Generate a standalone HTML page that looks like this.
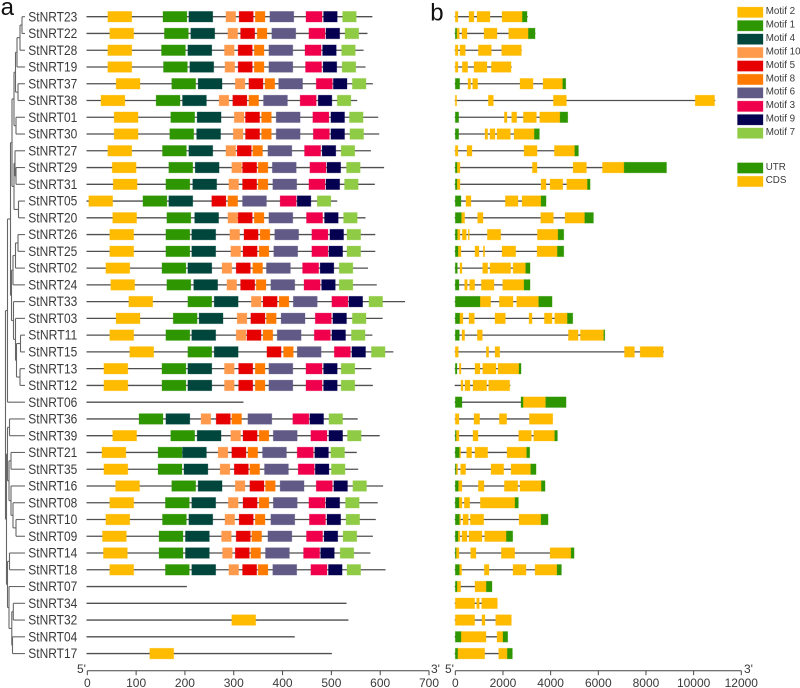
<!DOCTYPE html>
<html lang="en">
<head>
<meta charset="utf-8">
<title>StNRT gene family motif and gene structure</title>
<style>
html,body{margin:0;padding:0;background:#fff;}
svg{display:block;font-family:"Liberation Sans",Arial,sans-serif;}
text{fill:#3a3a3a;}
</style>
</head>
<body>
<svg id="figure" xmlns="http://www.w3.org/2000/svg" width="800" height="688" viewBox="0 0 800 688">
  <rect x="0" y="0" width="800" height="688" fill="#fff"/>
  <text x="0.6" y="15" font-size="24" style="fill:#111">a</text>
  <text x="430.2" y="20.5" font-size="24" style="fill:#111">b</text>
  <g id="tree"></g>
  <g id="labels"></g>
  <g id="motifs"></g>
  <g id="structures"></g>
  <g id="axis-a"></g>
  <g id="axis-b"></g>
  <g id="legend"></g>
</svg>
<script>
const geneNames = ["StNRT23","StNRT22","StNRT28","StNRT19","StNRT37","StNRT38","StNRT01","StNRT30","StNRT27","StNRT29","StNRT31","StNRT05","StNRT20","StNRT26","StNRT25","StNRT02","StNRT24","StNRT33","StNRT03","StNRT11","StNRT15","StNRT13","StNRT12","StNRT06","StNRT36","StNRT39","StNRT21","StNRT35","StNRT16","StNRT08","StNRT10","StNRT09","StNRT14","StNRT18","StNRT07","StNRT34","StNRT32","StNRT04","StNRT17"];
const proteinLengths = [584,574,566,570,585,553,596,598,581,608,589,512,570,590,590,575,593,651,605,584,627,582,585,320,554,599,552,555,606,595,591,585,580,611,204,531,535,425,501];
const motifNames = ["Motif 2","Motif 1","Motif 4","Motif 10","Motif 5","Motif 8","Motif 6","Motif 3","Motif 9","Motif 7"];
const motifLengths = [49,49,49,20,29,20,49,33,28,28];
const motifColors = ["#ffbb00","#2e9600","#00463c","#ff9a4d","#e60000","#ff7a00","#625a86","#f0004c","#05004f","#8fcb45"];
/* start residue of each motif, in motifNames order; null = motif absent */
const motifStarts = [
[42,155,208,284,311,344,374,448,484,523],
[46,158,212,288,314,348,378,454,489,528],
[42,152,206,281,309,342,372,446,482,521],
[42,156,210,282,309,342,372,447,483,522],
[59,173,227,303,331,364,392,469,504,543],
[28,141,195,270,298,331,361,436,473,512],
[55,171,225,301,324,357,387,462,499,537],
[55,169,224,299,324,357,387,463,499,538],
[42,154,208,284,307,339,370,445,481,520],
[51,167,221,296,318,350,379,456,491,531],
[53,161,216,290,318,350,380,454,489,527],
[3,114,167,null,255,288,318,395,430,471],
[52,163,220,288,309,342,372,449,486,525],
[46,161,214,292,321,354,384,460,497,532],
[46,161,214,294,319,352,382,460,495,532],
[38,153,206,276,305,339,367,441,477,516],
[48,163,218,286,314,346,376,444,480,516],
[85,206,260,336,360,393,422,501,536,577],
[59,176,229,307,335,367,397,467,503,543],
[46,161,214,305,327,360,389,465,501,541],
[87,206,260,null,368,402,430,506,542,582],
[34,153,206,281,310,344,372,448,484,520],
[34,153,206,281,310,344,372,448,484,520],
[null,null,null,null,null,null,null,null,null,null],
[null,106,161,233,264,296,329,421,456,495],
[52,171,225,294,319,352,381,458,495,533],
[30,145,195,268,296,329,359,430,466,499],
[34,145,198,272,301,333,363,432,467,500],
[58,173,227,303,333,365,395,469,505,544],
[46,160,214,289,319,352,381,454,489,529],
[38,154,208,282,311,344,376,455,491,530],
[31,147,201,275,305,337,370,449,485,524],
[33,147,201,277,303,335,365,443,478,518],
[46,160,214,290,318,350,380,458,494,532],
[null,null,null,null,null,null,null,null,null,null],
[null,null,null,null,null,null,null,null,null,null],
[296,null,null,null,null,null,null,null,null,null],
[null,null,null,null,null,null,null,null,null,null],
[128,null,null,null,null,null,null,null,null,null]
];
const cdsSegments = [
[[0,112],[574,784],[910,1456],[1960,2814]],
[[56,168],[280,490],[1204,1750],[2240,3066]],
[[0,112],[196,420],[966,1512],[1946,2772]],
[[0,112],[294,518],[784,1330],[1512,2338]],
[[532,644],[728,938],[2716,3262],[3682,4508]],
[[0,56],[1386,1596],[4116,4662],[10066,10878]],
[[2058,2170],[2366,2576],[2856,3402],[3542,4396]],
[[1246,1358],[1456,1666],[1750,2310],[2464,3318]],
[[0,112],[490,700],[2884,3430],[4158,5012]],
[[70,196],[3234,3430],[4942,5502],[6174,7084]],
[[70,196],[3598,3808],[3976,4508],[4676,5544]],
[[448,658],[2100,2632],[2800,3598]],
[[252,392],[938,1162],[3584,4116],[4606,5432]],
[[84,196],[294,462],[546,588],[1344,1904],[3444,4312]],
[[112,238],[826,994],[1176,1232],[1960,2534],[3430,4284]],
[[196,280],[1148,1358],[1456,2324],[2422,2954]],
[[392,504],[602,812],[1092,1624],[1988,2884]],
[[1036,1484],[1848,2422],[2576,3500]],
[[182,322],[574,798],[1666,2100],[3094,3220],[3738,4060],[4172,4704]],
[[280,392],[924,1134],[4746,5152],[5250,6230]],
[[0,126],[1302,1400],[1666,1862],[7098,7518],[7756,8722]],
[[168,238],[826,1036],[1148,1708],[1792,2674]],
[[238,322],[406,616],[742,1316],[1400,2282]],
[[2842,3794]],
[[0,154],[784,1022],[1848,2156],[3108,4088]],
[[28,154],[742,952],[2660,3192],[3290,4172]],
[[168,224],[476,686],[826,1358],[2170,2996]],
[[20,98],[224,434],[1498,2030],[2338,3164]],
[[126,280],[966,1204],[2058,2618],[2716,3612]],
[[154,280],[378,602],[1050,2506]],
[[168,224],[322,546],[630,1190],[2674,3598]],
[[112,196],[280,490],[574,1120],[1232,2142]],
[[28,154],[644,868],[1932,2492],[3976,4858]],
[[168,266],[1218,1414],[2422,2968],[3346,4270]],
[[70,224],[826,1302]],
[[0,812],[896,1008],[1106,1764]],
[[0,812],[1120,1246],[1694,2352]],
[[238,1288],[1750,2002]],
[[98,1232],[1820,2184]]
];
const utrSegments = [
[[2814,3010]],
[[0,56],[3066,3346]],
[],
[],
[[0,182],[4508,4634]],
[],
[[0,140],[4396,4718]],
[[0,140],[3318,3528]],
[[5012,5166]],
[[0,70],[7084,8862]],
[[0,70],[5544,5656]],
[[0,238],[3598,3808]],
[[0,252],[5432,5796]],
[[0,84],[4312,4550]],
[[0,112],[4284,4550]],
[[0,84],[2954,3136]],
[[0,154],[2884,3136]],
[[0,1036],[3500,4060]],
[[0,182],[4704,4928]],
[[0,168],[6230,6272]],
[],
[[0,70],[2674,2758]],
[],
[[0,280],[2758,2842],[3794,4648]],
[],
[[0,28],[4172,4284]],
[[0,168],[2996,3122]],
[[0,20],[3164,3388]],
[[0,126],[3612,3766]],
[[0,154],[2506,2646]],
[[0,168],[3598,3892]],
[[0,112],[2142,2408]],
[[0,28],[4858,4984]],
[[0,168],[4270,4452]],
[[0,70],[1302,1540]],
[],
[],
[[0,238],[2002,2198]],
[[0,98],[2184,2394]]
];
/* gene length where the line runs past the last exon */
const geneLengths = [3038,3360,2786,2366,4634,10906,4718,3528,5166,8862,5656,3808,5796,4550,4550,3136,3136,4060,4928,6272,8750,2758,2310,4648,4088,4284,3122,3388,3766,2646,3892,2408,4984,4452,1540,1764,2352,2198,2394];
const motifTicks = [0,100,200,300,400,500,600,700];
const structureTicks = [0,2000,4000,6000,8000,10000,12000];
const structureLegend = ["UTR","CDS"];
/* nested clades: [branch depth, children]; a plain number is a leaf row in geneNames */
const treeClades =
[5.5,[
  [7.5,[
    [10.5,[
      [12,[
        [14,[
          [15.5,[[17,[[20,[[22,[0,1]],2]],3]],[18,[4,5]]]],
          [16,[6,7]]
        ]],
        [14,[
          [15,[8,[16,[9,10]]]],
          [18.5,[11,12]]
        ]]
      ]],
      [11.5,[
        [13,[[15.5,[[18,[13,14]],15]],16]],
        [13.5,[17,[15.5,[18,[16.5,[[20.5,[19,20]],[20,[21,22]]]]]]]]
      ]]
    ]],
    23
  ]],
  [6.5,[
    [7.5,[
      [9.5,[24,25]],
      [9,[
        [11,[26,27]],
        [11,[28,[13,[29,[16,[30,31]]]]]]
      ]]
    ]],
    [7.5,[
      [9.5,[32,33]],
      [9,[34,[11.8,[[13.3,[35,36]],[12.5,[37,38]]]]]]
    ]]
  ]]
]];

const SVG_NS = "http://www.w3.org/2000/svg";
const AX_A_X0 = 87.3, AX_A_X1 = 429, AX_A_MAX = 700;
const AX_B_X0 = 455.3, AX_B_X1 = 741.3, AX_B_MAX = 12000;
const AXIS_Y = 670.7, ROW_Y0 = 16.7, ROW_STEP = 16.76, BOX_H = 10.6, LEAF_X = 25;
const xMotif = v => AX_A_X0 + v * (AX_A_X1 - AX_A_X0) / AX_A_MAX;
const xStruct = v => AX_B_X0 + v * (AX_B_X1 - AX_B_X0) / AX_B_MAX;
const yRow = i => ROW_Y0 + ROW_STEP * i;

function mk(parent, tag, props, txt) {
  const el = document.createElementNS(SVG_NS, tag);
  for (const k in props) el.setAttribute(k, props[k]);
  if (txt !== undefined) el.textContent = txt;
  parent.appendChild(el);
  return el;
}
function box(parent, x0, x1, y, color) {
  return mk(parent, "rect", {x: x0, y: y - BOX_H / 2, width: Math.max(x1 - x0, 0.8), height: BOX_H, fill: color, stroke: color, "stroke-opacity": 0.35, "stroke-width": 0.8});
}

/* tree */
const treeG = document.getElementById("tree");
function drawClade(node) {
  if (typeof node === "number") return {x: LEAF_X, y: yRow(node)};
  const depth = node[0];
  const kids = node[1].map(drawClade);
  const ys = kids.map(k => k.y);
  const top = ys[0], bot = ys[ys.length - 1];
  const v = mk(treeG, "line", {x1: depth, x2: depth, y1: top, y2: bot, stroke: "#666", "stroke-width": 1.1});
  
  
  kids.forEach(k => {
    const h = mk(treeG, "line", {x1: depth, x2: k.x, y1: k.y, y2: k.y, stroke: "#666", "stroke-width": 1.1});
    
    
  });
  return {x: depth, y: (top + bot) / 2};
}
drawClade(treeClades);

/* labels, motif rows, structure rows */
const labelsG = document.getElementById("labels");
const motifsG = document.getElementById("motifs");
const structG = document.getElementById("structures");
geneNames.forEach((name, i) => {
  const y = yRow(i);
  const lab = mk(labelsG, "text", {x: 28.3, y: y + 4.6, "font-size": 14, textLength: 49, lengthAdjust: "spacingAndGlyphs"}, name);
  
  

  const row = mk(motifsG, "g", {});
  
  
  const ln = mk(row, "line", {x1: 86.5, x2: xMotif(proteinLengths[i]), y1: y, y2: y, stroke: "#4f4f4f", "stroke-width": 1.3});
  
  
  motifStarts[i].forEach((start, m) => {
    if (start === null) return;
    const r = box(row, xMotif(start), xMotif(start + motifLengths[m]), y, motifColors[m]);
    
    
  });

  const sRow = mk(structG, "g", {});
  
  
  const sl = mk(sRow, "line", {x1: xStruct(0) - 0.6, x2: xStruct(geneLengths[i]), y1: y, y2: y, stroke: "#4f4f4f", "stroke-width": 1.3});
  
  
  cdsSegments[i].forEach(seg => {
    const c = box(sRow, xStruct(seg[0]), xStruct(seg[1]), y, "#ffbb00");
    
    
  });
  utrSegments[i].forEach(seg => {
    const u = box(sRow, xStruct(seg[0]), xStruct(seg[1]), y, "#2e9600");
    
    
  });
});

/* axes */
function drawAxis(gid, ticks, xf, x5, x3) {
  const g = document.getElementById(gid);
  const dom = mk(g, "line", {x1: xf(ticks[0]), x2: xf(ticks[ticks.length - 1]), y1: AXIS_Y, y2: AXIS_Y, stroke: "#444", "stroke-width": 1});
  
  
  ticks.forEach(t => {
    const tk = mk(g, "line", {x1: xf(t), x2: xf(t), y1: AXIS_Y, y2: AXIS_Y + 4.5, stroke: "#444", "stroke-width": 1});
    
    
    const lb = mk(g, "text", {x: xf(t), y: 687, "font-size": 12, "text-anchor": "middle"}, String(t));
    
    
  });
  const five = mk(g, "text", {x: x5, y: 673, "font-size": 12}, "5'");
  
  
  const three = mk(g, "text", {x: x3, y: 673, "font-size": 12}, "3'");
  
  
}
drawAxis("axis-a", motifTicks, xMotif, 77, 431);
drawAxis("axis-b", structureTicks, xStruct, 445, 744);

/* legend */
const legendG = document.getElementById("legend");
const LEG_X = 737.5, LEG_W = 25.5, LEG_STEP = 13.43, LEG_Y0 = 12.3, LEG_Y_UTR = 168;
function legendEntry(label, color, cy) {
  const sw = mk(legendG, "rect", {x: LEG_X, y: cy - 5.2, width: LEG_W, height: 10.4, fill: color, stroke: color, "stroke-opacity": 0.35, "stroke-width": 0.8});
  
  
  const t = mk(legendG, "text", {x: 765.7, y: cy + 1.8, "font-size": 9.8}, label);
  
  
}
motifNames.forEach((n, i) => legendEntry(n, motifColors[i], LEG_Y0 + LEG_STEP * i));
structureLegend.forEach((n, i) => legendEntry(n, n === "UTR" ? "#2e9600" : "#ffbb00", LEG_Y_UTR + LEG_STEP * i));
</script>
</body>
</html>
